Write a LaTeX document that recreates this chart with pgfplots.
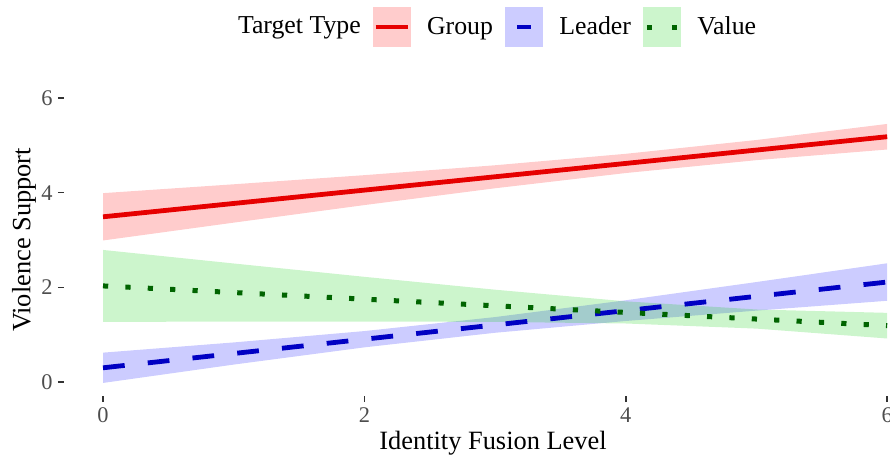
\documentclass[border=0pt]{standalone}
\usepackage{fontspec}
\setmainfont{Liberation Serif}
\usepackage{pgfplots}
\usepackage{pgfplotstable}
\pgfplotsset{compat=1.18}
\usepgfplotslibrary{fillbetween}
\definecolor{grpline}{RGB}{230,0,0}
\definecolor{grpfill}{RGB}{255,0,0}
\definecolor{ldrline}{RGB}{0,0,195}
\definecolor{ldrfill}{RGB}{0,0,255}
\definecolor{valline}{RGB}{0,100,0}
\definecolor{valfill}{RGB}{0,205,0}
\definecolor{ticktext}{RGB}{77,77,77}
\definecolor{tickmark}{RGB}{51,51,51}

\pgfplotstableread{
x lo mid hi
0 2.990 3.490 3.990
1 3.367 3.772 4.177
2 3.738 4.054 4.370
3 4.093 4.336 4.579
4 4.415 4.618 4.821
5 4.687 4.900 5.113
6 4.912 5.182 5.452
}\grouptab

\pgfplotstableread{
x lo mid hi
0 -0.020 0.300 0.620
1 0.368 0.602 0.836
2 0.732 0.904 1.076
3 1.040 1.206 1.372
4 1.289 1.508 1.727
5 1.508 1.810 2.112
6 1.716 2.112 2.508
}\leadertab

\pgfplotstableread{
x lo mid hi
0 1.270 2.030 2.790
1 1.276 1.890 2.504
2 1.278 1.750 2.222
3 1.270 1.610 1.950
4 1.236 1.470 1.704
5 1.128 1.330 1.532
6 0.919 1.190 1.461
}\valuetab

\begin{document}
\begin{tikzpicture}
\begin{axis}[
  at={(0,0)}, anchor=south west,
  scale only axis, width=431.3bp, height=156.2bp,
  xmin=-0.3, xmax=6.3, ymin=-0.3, ymax=6.3,
  xtick={0,2,4,6}, ytick={0,2,4,6},
  axis line style={draw=none},
  tick align=outside, xtick pos=bottom, ytick pos=left,
  major tick length=3bp,
  tick style={color=tickmark, line width=0.8bp},
  /pgf/number format/assume math mode=true,
  ticklabel style={font=\fontsize{11.2bp}{13bp}\selectfont, text=ticktext},
  xticklabel style={inner sep=0pt},
  yticklabel style={inner sep=0pt},
  xticklabel shift=2.7bp,
  yticklabel shift=2.4bp,
  xlabel={Identity Fusion Level},
  ylabel={Violence Support},
  label style={font=\fontsize{13.2bp}{15bp}\selectfont},
  xlabel style={at={(axis description cs:0.4976,-0.1722)}, anchor=base, inner sep=0pt},
  ylabel style={at={(axis description cs:-0.046,0.500)}, anchor=center, inner sep=0pt},
  legend columns=-1,
  legend style={at={(0.495,1.1818)}, anchor=center, draw=none, fill=none,
    font=\fontsize{12.9bp}{15bp}\selectfont,
    /tikz/every odd column/.append style={column sep=6.3bp},
    /tikz/every even column/.append style={column sep=3.9bp}},
]
% ribbons
\addplot[name path=gu, draw=none, forget plot] table[x=x,y=hi]{\grouptab};
\addplot[name path=gl, draw=none, forget plot] table[x=x,y=lo]{\grouptab};
\addplot[fill=grpfill, fill opacity=0.2, draw=none, forget plot] fill between[of=gu and gl];
\addplot[name path=lu, draw=none, forget plot] table[x=x,y=hi]{\leadertab};
\addplot[name path=ll, draw=none, forget plot] table[x=x,y=lo]{\leadertab};
\addplot[fill=ldrfill, fill opacity=0.2, draw=none, forget plot] fill between[of=lu and ll];
\addplot[name path=vu, draw=none, forget plot] table[x=x,y=hi]{\valuetab};
\addplot[name path=vl, draw=none, forget plot] table[x=x,y=lo]{\valuetab};
\addplot[fill=valfill, fill opacity=0.2, draw=none, forget plot] fill between[of=vu and vl];
% lines
\addplot[grpline, line width=2.4bp, forget plot] table[x=x,y=mid]{\grouptab};
\addplot[ldrline, line width=2.4bp, dash pattern=on 10.9bp off 11.6bp, forget plot] table[x=x,y=mid]{\leadertab};
\addplot[valline, line width=2.5bp, dash pattern=on 2.6bp off 8.6bp, forget plot] table[x=x,y=mid]{\valuetab};
% legend
\addlegendimage{empty legend}
\addlegendentry{Target Type}
\addlegendimage{legend image code/.code={
  \path[fill=grpfill, fill opacity=0.2, draw=none] (0bp,-10bp) rectangle (19bp,10bp);
  \path[draw=grpline, line width=2.4bp] (1.5bp,0bp) -- (17.5bp,0bp);}}
\addlegendentry{Group}
\addlegendimage{legend image code/.code={
  \path[fill=ldrfill, fill opacity=0.2, draw=none] (0bp,-10bp) rectangle (19bp,10bp);
  \path[draw=ldrline, line width=2.4bp] (6bp,0bp) -- (13bp,0bp);}}
\addlegendentry{Leader}
\addlegendimage{legend image code/.code={
  \path[fill=valfill, fill opacity=0.2, draw=none] (0bp,-10bp) rectangle (19bp,10bp);
  \path[draw=valline, line width=2.5bp, dash pattern=on 2.5bp off 10bp] (2bp,0bp) -- (17bp,0bp);}}
\addlegendentry{Value}
\end{axis}
\pgfresetboundingbox
\path[use as bounding box] (-31.9bp,-29.9bp) rectangle (413.1bp,198.1bp);
\end{tikzpicture}
\end{document}
